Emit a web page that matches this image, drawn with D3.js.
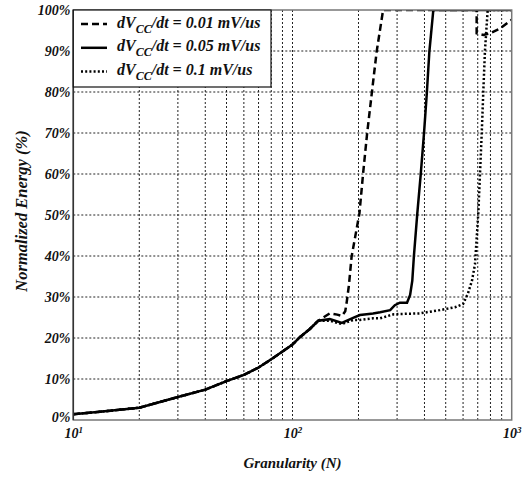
<!DOCTYPE html>
<html><head><meta charset="utf-8">
<script src="https://cdn.jsdelivr.net/npm/d3@7"></script>
<style>body{margin:0;background:#fff}</style>
</head><body>
<svg id="c" width="523" height="478"></svg>
<script>
// ---- data ----
const yTicks = [0,10,20,30,40,50,60,70,80,90,100];
const xTicks = [10,100,1000];
const xTickExp = ["1","2","3"];
const legendLabels = ["0.01 mV/us","0.05 mV/us","0.1 mV/us"];
const commonN = [10,13.2,20,30,40,50,60,70,80,90,100,108,120,131];
const commonE = [1.4,2.0,3.0,5.6,7.4,9.5,11.0,12.8,14.8,16.7,18.4,20.2,22.2,24.2];
const dashN = [148,160,168,174,177,181,186,202,210,219,230,242,259,692,692,742,796,885,1000];
const dashE = [26.0,25.7,25.4,26.5,29,33,39.8,50.4,60.2,69.9,79.7,89.8,100,100,94.3,93.9,94.3,95.5,97.6];
const solidN = [148,168,189,203,218,233,251,279,293,309,333,344,352,358,371,385,398,410,421,439,1000];
const solidE = [24.6,23.7,24.9,25.6,25.8,26.0,26.3,26.8,28.0,28.6,28.6,30.5,34,40,50.4,60.2,69.9,79.7,89.8,100,100];
const dotN = [148,168,189,203,233,251,290,380,470,551,600,632,659,680,704,717,730,742,755,777,1000];
const dotE = [24.2,23.4,24.4,24.4,24.8,24.8,25.8,26.0,26.8,27.5,28.3,30.9,34,38,50.4,60.2,70,80,90,100,100];

// ---- chart ----
const svg = d3.select("#c");
const L=73.3, R=511.7, T=10, B=420;
const x = d3.scaleLog().domain([10,1000]).range([L,R]);
const y = d3.scaleLinear().domain([0,100]).range([B,T]);
const font = "'Liberation Serif','Times New Roman',serif";

// grid
const minors = [];
[10,100].forEach(d=>{for(let k=2;k<=9;k++) minors.push(d*k);});
minors.push(100);
svg.append("g").selectAll("line").data(minors).join("line")
  .attr("x1",d=>x(d)).attr("x2",d=>x(d)).attr("y1",T).attr("y2",B)
  .attr("stroke","#222").attr("stroke-width",1).attr("stroke-dasharray","2,2");
svg.append("g").selectAll("line").data(yTicks.slice(1,-1)).join("line")
  .attr("x1",L).attr("x2",R).attr("y1",d=>y(d)).attr("y2",d=>y(d))
  .attr("stroke","#222").attr("stroke-width",1).attr("stroke-dasharray","2,2");

// clip
svg.append("clipPath").attr("id","clip").append("rect")
  .attr("x",L).attr("y",T).attr("width",R-L).attr("height",B-T);

const line = d3.line().x(d=>x(d[0])).y(d=>y(d[1]));
const mk = (N,E)=>commonN.map((n,i)=>[n,commonE[i]]).concat(N.map((n,i)=>[n,E[i]]));
const series = [
  {pts: mk(dashN,dashE), dash:"7,4"},
  {pts: mk(solidN,solidE), dash:null},
  {pts: mk(dotN,dotE), dash:"2,2.2"}
];
const gl = svg.append("g").attr("clip-path","url(#clip)");
series.slice().reverse().forEach(s=>{
  gl.append("path").attr("d",line(s.pts)).attr("fill","none")
    .attr("stroke","#000").attr("stroke-width",2.5)
    .attr("stroke-dasharray",s.dash);
});

// axes
const ya = d3.axisLeft(y).tickValues(yTicks).tickFormat(d=>d+"%").tickSize(0).tickPadding(3);
const gy = svg.append("g").attr("transform",`translate(${L},0)`).call(ya);
gy.select(".domain").remove();
gy.selectAll("text").attr("font-family",font).attr("font-weight","bold")
  .attr("font-style","italic").attr("font-size",14).attr("fill","#111")
  .attr("dy",d=>d===0?"0.14em":"0.32em");

const xa = d3.axisBottom(x).tickValues(xTicks).tickFormat("").tickSize(0);
const gx = svg.append("g").attr("transform",`translate(0,${B})`).call(xa);
gx.select(".domain").remove();
gx.selectAll(".tick").each(function(d,i){
  const t = d3.select(this).append("text").attr("y",18).attr("fill","#111")
    .attr("font-family",font).attr("font-weight","bold").attr("font-style","italic")
    .attr("font-size",14).attr("text-anchor","middle");
  t.append("tspan").text("10");
  t.append("tspan").attr("font-size",9).attr("dy",-5).text(xTickExp[i]);
});

// border
svg.append("rect").attr("x",L).attr("y",T).attr("width",R-L).attr("height",B-T)
  .attr("fill","none").attr("stroke","#777").attr("stroke-width",1.5);
svg.append("line").attr("x1",L).attr("x2",L).attr("y1",T).attr("y2",B).attr("stroke","#333").attr("stroke-width",1.5);

// legend
const lg = svg.append("g");
lg.append("rect").attr("x",L).attr("y",T).attr("width",271-L).attr("height",87-T)
  .attr("fill","#fff").attr("stroke","#111").attr("stroke-width",1.2);
series.forEach((s,i)=>{
  const yy = 24 + i*23.8;
  lg.append("line").attr("x1",81).attr("x2",107).attr("y1",yy).attr("y2",yy)
    .attr("stroke","#000").attr("stroke-width",2.5).attr("stroke-dasharray",s.dash);
  const t = lg.append("text").attr("x",117).attr("y",yy+3.5)
    .attr("font-family",font).attr("font-weight","bold").attr("font-style","italic")
    .attr("font-size",16).attr("fill","#111");
  t.append("tspan").text("dV");
  t.append("tspan").attr("font-size",12).attr("dy",5).text("CC");
  t.append("tspan").attr("dy",-5).text("/dt = " + legendLabels[i]);
});

// axis labels
svg.append("text").attr("x",(L+R)/2).attr("y",468).attr("text-anchor","middle")
  .attr("font-family",font).attr("font-weight","bold").attr("font-style","italic")
  .attr("font-size",15).attr("fill","#111").text("Granularity (N)");
svg.append("text").attr("transform","translate(27,211) rotate(-90)").attr("text-anchor","middle")
  .attr("font-family",font).attr("font-weight","bold").attr("font-style","italic")
  .attr("font-size",16.5).attr("fill","#111").text("Normalized Energy (%)");
</script>
</body></html>
